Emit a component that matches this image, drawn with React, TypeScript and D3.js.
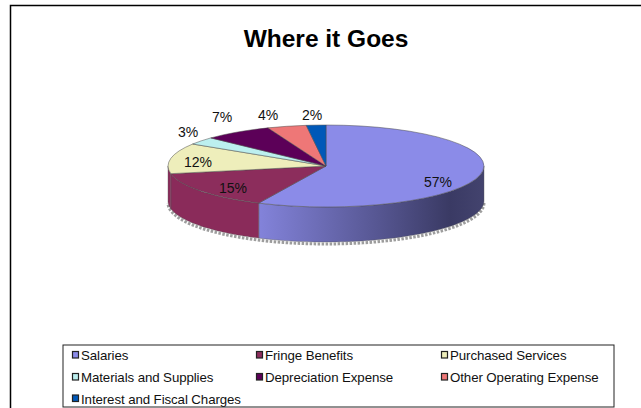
import React from "react";
import * as d3 from "d3";

const categories = ["Salaries", "Fringe Benefits", "Purchased Services", "Materials and Supplies", "Depreciation Expense", "Other Operating Expense", "Interest and Fiscal Charges"];
const values = [57, 15, 12, 3, 7, 4, 2];
const colors = ["#8b8be8", "#8c2d5c", "#eeeebb", "#bcefef", "#5c0058", "#ee7777", "#0058b8"];
const sideDark = ["#3a3a66", "#8a2b5a", "#8a2b5a", "#8a2b5a", "#8a2b5a", "#8a2b5a", "#8a2b5a"];
const labelAt = [[438, 187], [233, 193], [198, 167], [188, 137], [222, 122], [268, 120], [312, 120]];
const legendCols = [72.5, 256.5, 441.5];
const legendRows = [355, 377, 398.5];

const cx = 326, cy = 166, rx = 158, ry = 41, depth = 35;
const px = (a: number) => cx + rx * Math.sin(a);
const py = (a: number) => cy - ry * Math.cos(a);

const arcs = d3.pie<number>().sort(null).value((d) => d)(values);
const unitArc = d3.arc<d3.PieArcDatum<number>>().innerRadius(0).outerRadius(1);

function sidePath(a0: number, a1: number) {
  const start = Math.max(a0, Math.PI / 2);
  const end = Math.min(a1, (3 * Math.PI) / 2);
  if (end <= start) return null;
  const angles = d3.range(0, 61).map((i) => start + ((end - start) * i) / 60);
  const top = angles.map((a) => [px(a), py(a)] as [number, number]);
  const bottom = angles.slice().reverse().map((a) => [px(a), py(a) + depth] as [number, number]);
  return d3.line()([...top, ...bottom]) + "Z";
}

const shadowPath = d3.line()(
  d3.range(0, 81).map((i) => {
    const a = Math.PI / 2 + (Math.PI * i) / 80;
    return [px(a), py(a) + depth + 2] as [number, number];
  })
) as string;

export default function App() {
  return (
    <svg width={641} height={408} style={{ position: "absolute", left: 0, top: 0, background: "#fff" }} fontFamily="Liberation Sans, Arial, sans-serif">
      <defs>
        <linearGradient id="side0" gradientUnits="userSpaceOnUse" x1={256} x2={484} y1={0} y2={0}>
          <stop offset="0" stopColor="#8484dc" />
          <stop offset="0.55" stopColor="#555590" />
          <stop offset="0.85" stopColor="#3a3a64" />
          <stop offset="1" stopColor="#43436e" />
        </linearGradient>
      </defs>
      <rect x={10.5} y={5.5} width={700} height={450} fill="#fff" stroke="#000" strokeWidth={1.5} />
      <text x={326} y={47} textAnchor="middle" fontSize={24.5} fontWeight="bold" fill="#000">Where it Goes</text>

      <path d={shadowPath} fill="none" stroke="#8c8c8c" strokeWidth={3} strokeDasharray="2.5 1.5" opacity={0.85} />

      {arcs.map((d, i) => {
        const p = sidePath(d.startAngle, d.endAngle);
        return p ? <path key={i} d={p} fill={i === 0 ? "url(#side0)" : sideDark[i]} stroke="#555" strokeWidth={0.4} /> : null;
      })}
      {arcs.map((d, i) => (
        <path
          key={i}
          d={unitArc(d) as string}
          transform={`translate(${cx},${cy}) scale(${rx},${ry})`}
          fill={colors[i]}
          stroke="#4a4a4a"
          strokeWidth={0.5}
          vectorEffect="non-scaling-stroke"
        />
      ))}
      {values.map((v, i) => (
        <text key={i} x={labelAt[i][0]} y={labelAt[i][1]} textAnchor="middle" fontSize={14} fill="#111">{v}%</text>
      ))}

      <rect x={63} y={345} width={551} height={62} fill="#fff" stroke="#222" strokeWidth={1} />
      {categories.map((c, i) => {
        const col = i % 3, row = Math.floor(i / 3);
        return (
          <g key={c}>
            <rect x={legendCols[col]} y={legendRows[row] - 3.5} width={6} height={6.5} fill={colors[i]} stroke="#222" strokeWidth={1.2} />
            <text x={legendCols[col] + 8.5} y={legendRows[row] + 5} fontSize={13.3} letterSpacing={-0.1} fill="#111">{c}</text>
          </g>
        );
      })}
    </svg>
  );
}
